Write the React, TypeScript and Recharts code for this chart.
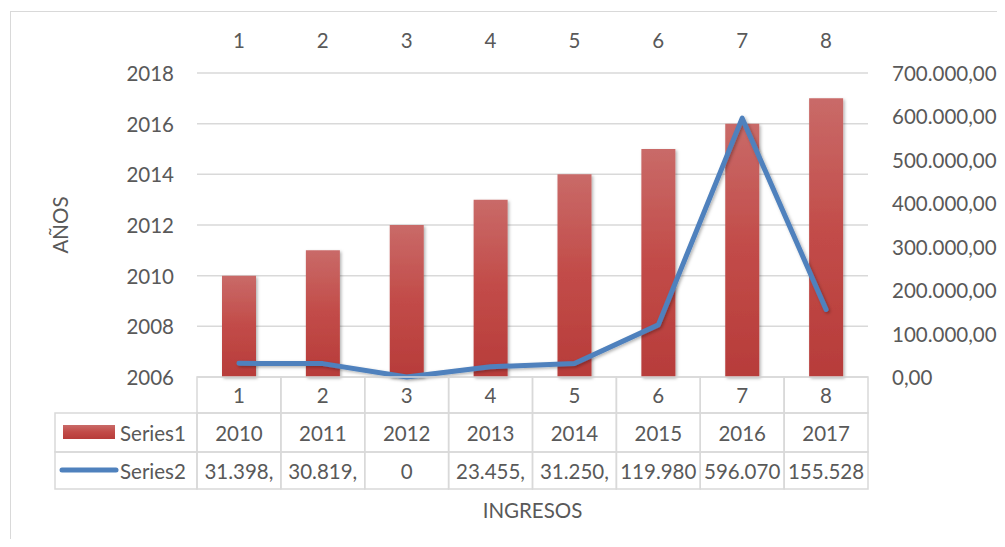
import React from 'react';
import { ComposedChart, Bar, Line, XAxis, YAxis, CartesianGrid } from 'recharts';

const categories = [1, 2, 3, 4, 5, 6, 7, 8];
const series1 = [2010, 2011, 2012, 2013, 2014, 2015, 2016, 2017];
const series2 = [31398, 30819, 0, 23455, 31250, 119980, 596070, 155528];
const series2Labels = ['31.398,', '30.819,', '0', '23.455,', '31.250,', '119.980', '596.070', '155.528'];
const leftTicks = [2006, 2008, 2010, 2012, 2014, 2016, 2018];
const rightTicks = [0, 100000, 200000, 300000, 400000, 500000, 600000, 700000];

const data = categories.map((c, i) => ({ idx: c, s1: series1[i], s2: series2[i] }));

const W = 993;
const H = 531;
const PLOT_LEFT = 189;
const PLOT_RIGHT = 860;
const PLOT_TOP = 65;
const PLOT_BOTTOM = 369;
const CELL_W = (PLOT_RIGHT - PLOT_LEFT) / categories.length;
const ROW1 = [369, 405];
const ROW2 = [405, 444];
const ROW3 = [444, 481];
const LEG_LEFT = 47;

const TXT = '#595959';
const GRID = '#d9d9d9';
const FS = 20.5;
const FONT = 'Lato, "Open Sans", sans-serif';

const fmtRight = (v: number) =>
  String(Math.round(v)).replace(/\B(?=(\d{3})+(?!\d))/g, '.') + ',00';

const txtProps = { fill: TXT, fontSize: FS, fontFamily: FONT };

const TopTick = (p: any) => (
  <text x={p.x} y={32} textAnchor="middle" dominantBaseline="central" {...txtProps}>
    {p.payload.value}
  </text>
);

const Row1Tick = (p: any) => (
  <g>
    <rect x={p.x - CELL_W / 2} y={ROW1[0]} width={CELL_W} height={ROW1[1] - ROW1[0]} fill="none" stroke={GRID} strokeWidth={1.5} />
    <text x={p.x} y={(ROW1[0] + ROW1[1]) / 2} textAnchor="middle" dominantBaseline="central" {...txtProps}>
      {p.payload.value}
    </text>
  </g>
);

const Row2Tick = (p: any) => (
  <g>
    {p.index === 0 && (
      <g>
        <rect x={LEG_LEFT} y={ROW2[0]} width={PLOT_LEFT - LEG_LEFT} height={ROW2[1] - ROW2[0]} fill="none" stroke={GRID} strokeWidth={1.5} />
        <rect x={55} y={417} width={52} height={14} fill="url(#barGrad)" />
        <text x={112} y={(ROW2[0] + ROW2[1]) / 2} textAnchor="start" dominantBaseline="central" {...txtProps}>
          Series1
        </text>
      </g>
    )}
    <rect x={p.x - CELL_W / 2} y={ROW2[0]} width={CELL_W} height={ROW2[1] - ROW2[0]} fill="none" stroke={GRID} strokeWidth={1.5} />
    <text x={p.x} y={(ROW2[0] + ROW2[1]) / 2} textAnchor="middle" dominantBaseline="central" {...txtProps}>
      {series1[p.index]}
    </text>
  </g>
);

const Row3Tick = (p: any) => (
  <g>
    {p.index === 0 && (
      <g>
        <rect x={LEG_LEFT} y={ROW3[0]} width={PLOT_LEFT - LEG_LEFT} height={ROW3[1] - ROW3[0]} fill="none" stroke={GRID} strokeWidth={1.5} />
        <line x1={54} y1={462} x2={108} y2={462} stroke="#4f81bd" strokeWidth={5} strokeLinecap="round" />
        <text x={112} y={(ROW3[0] + ROW3[1]) / 2} textAnchor="start" dominantBaseline="central" {...txtProps}>
          Series2
        </text>
      </g>
    )}
    <rect x={p.x - CELL_W / 2} y={ROW3[0]} width={CELL_W} height={ROW3[1] - ROW3[0]} fill="none" stroke={GRID} strokeWidth={1.5} />
    <text x={p.x} y={(ROW3[0] + ROW3[1]) / 2} textAnchor="middle" dominantBaseline="central" {...txtProps}>
      {series2Labels[p.index]}
    </text>
  </g>
);

const LeftTick = (p: any) => (
  <text x={p.x} y={p.y} textAnchor="end" dominantBaseline="central" {...txtProps}>
    {p.payload.value}
  </text>
);

const RightTick = (p: any) => (
  <text x={p.x} y={p.y} textAnchor="start" dominantBaseline="central" {...txtProps}>
    {fmtRight(p.payload.value)}
  </text>
);

const LeftTitle = (p: any) => {
  const vb = p.viewBox || { x: 0, y: PLOT_TOP, width: PLOT_LEFT, height: PLOT_BOTTOM - PLOT_TOP };
  const x = 52;
  const y = vb.y + vb.height / 2;
  return (
    <text x={x} y={y} transform={`rotate(-90, ${x}, ${y})`} textAnchor="middle" dominantBaseline="central" {...txtProps}>
      AÑOS
    </text>
  );
};

const BottomTitle = (p: any) => {
  const vb = p.viewBox || { x: PLOT_LEFT, width: PLOT_RIGHT - PLOT_LEFT };
  return (
    <text x={vb.x + vb.width / 2} y={502} textAnchor="middle" dominantBaseline="central" {...txtProps}>
      INGRESOS
    </text>
  );
};

export default function App() {
  return (
    <div style={{ position: 'relative', width: W, height: H, overflow: 'hidden', background: '#fff' }}>
      <div
        style={{
          position: 'absolute',
          left: 2,
          top: 3,
          width: 1000,
          height: 534,
          border: '1px solid #d9d9d9',
          pointerEvents: 'none',
        }}
      />
      <ComposedChart
        width={W}
        height={H}
        data={data}
        margin={{ top: 0, right: 0, bottom: 10, left: 0 }}
        style={{ fontFamily: FONT }}
      >
        <defs>
          <linearGradient id="barGrad" x1="0" y1="0" x2="0" y2="1">
            <stop offset="0%" stopColor="#c96a68" />
            <stop offset="50%" stopColor="#c24b48" />
            <stop offset="100%" stopColor="#b73c3a" />
          </linearGradient>
          <filter id="shadow" x="-20%" y="-20%" width="140%" height="140%">
            <feDropShadow dx="1.5" dy="1.5" stdDeviation="1.5" floodColor="#000" floodOpacity="0.3" />
          </filter>
        </defs>
        <CartesianGrid yAxisId="left" xAxisId="top" vertical={false} stroke={GRID} strokeWidth={1.5} />
        <XAxis
          xAxisId="top"
          orientation="top"
          dataKey="idx"
          type="category"
          height={PLOT_TOP}
          axisLine={false}
          tickLine={false}
          tick={<TopTick />}
          interval={0}
        />
        <XAxis
          xAxisId="b1"
          orientation="bottom"
          dataKey="idx"
          type="category"
          height={ROW1[1] - ROW1[0]}
          axisLine={false}
          tickLine={false}
          tick={<Row1Tick />}
          interval={0}
        />
        <XAxis
          xAxisId="b2"
          orientation="bottom"
          dataKey="idx"
          type="category"
          height={ROW2[1] - ROW2[0]}
          axisLine={false}
          tickLine={false}
          tick={<Row2Tick />}
          interval={0}
        />
        <XAxis
          xAxisId="b3"
          orientation="bottom"
          dataKey="idx"
          type="category"
          height={ROW3[1] - ROW3[0]}
          axisLine={false}
          tickLine={false}
          tick={<Row3Tick />}
          interval={0}
        />
        <XAxis
          xAxisId="b4"
          orientation="bottom"
          dataKey="idx"
          type="category"
          height={40}
          axisLine={false}
          tickLine={false}
          tick={false}
          label={BottomTitle}
        />
        <YAxis
          yAxisId="left"
          orientation="left"
          type="number"
          domain={[2006, 2018]}
          ticks={leftTicks}
          width={PLOT_LEFT}
          axisLine={false}
          tickLine={false}
          tickSize={0}
          tickMargin={23}
          tick={<LeftTick />}
          interval={0}
          label={LeftTitle}
        />
        <YAxis
          yAxisId="right"
          orientation="right"
          type="number"
          domain={[0, 700000]}
          ticks={rightTicks}
          width={W - PLOT_RIGHT}
          axisLine={false}
          tickLine={false}
          tickSize={0}
          tickMargin={24}
          tick={<RightTick />}
          interval={0}
        />
        <Bar
          xAxisId="top"
          yAxisId="left"
          dataKey="s1"
          name="Series1"
          fill="url(#barGrad)"
          barSize={34}
          isAnimationActive={false}
          style={{ filter: 'url(#shadow)' }}
        />
        <Line
          xAxisId="top"
          yAxisId="right"
          dataKey="s2"
          name="Series2"
          type="linear"
          stroke="#4f81bd"
          strokeWidth={5}
          strokeLinecap="round"
          strokeLinejoin="round"
          dot={false}
          activeDot={false}
          isAnimationActive={false}
          style={{ filter: 'url(#shadow)' }}
        />
      </ComposedChart>
    </div>
  );
}
